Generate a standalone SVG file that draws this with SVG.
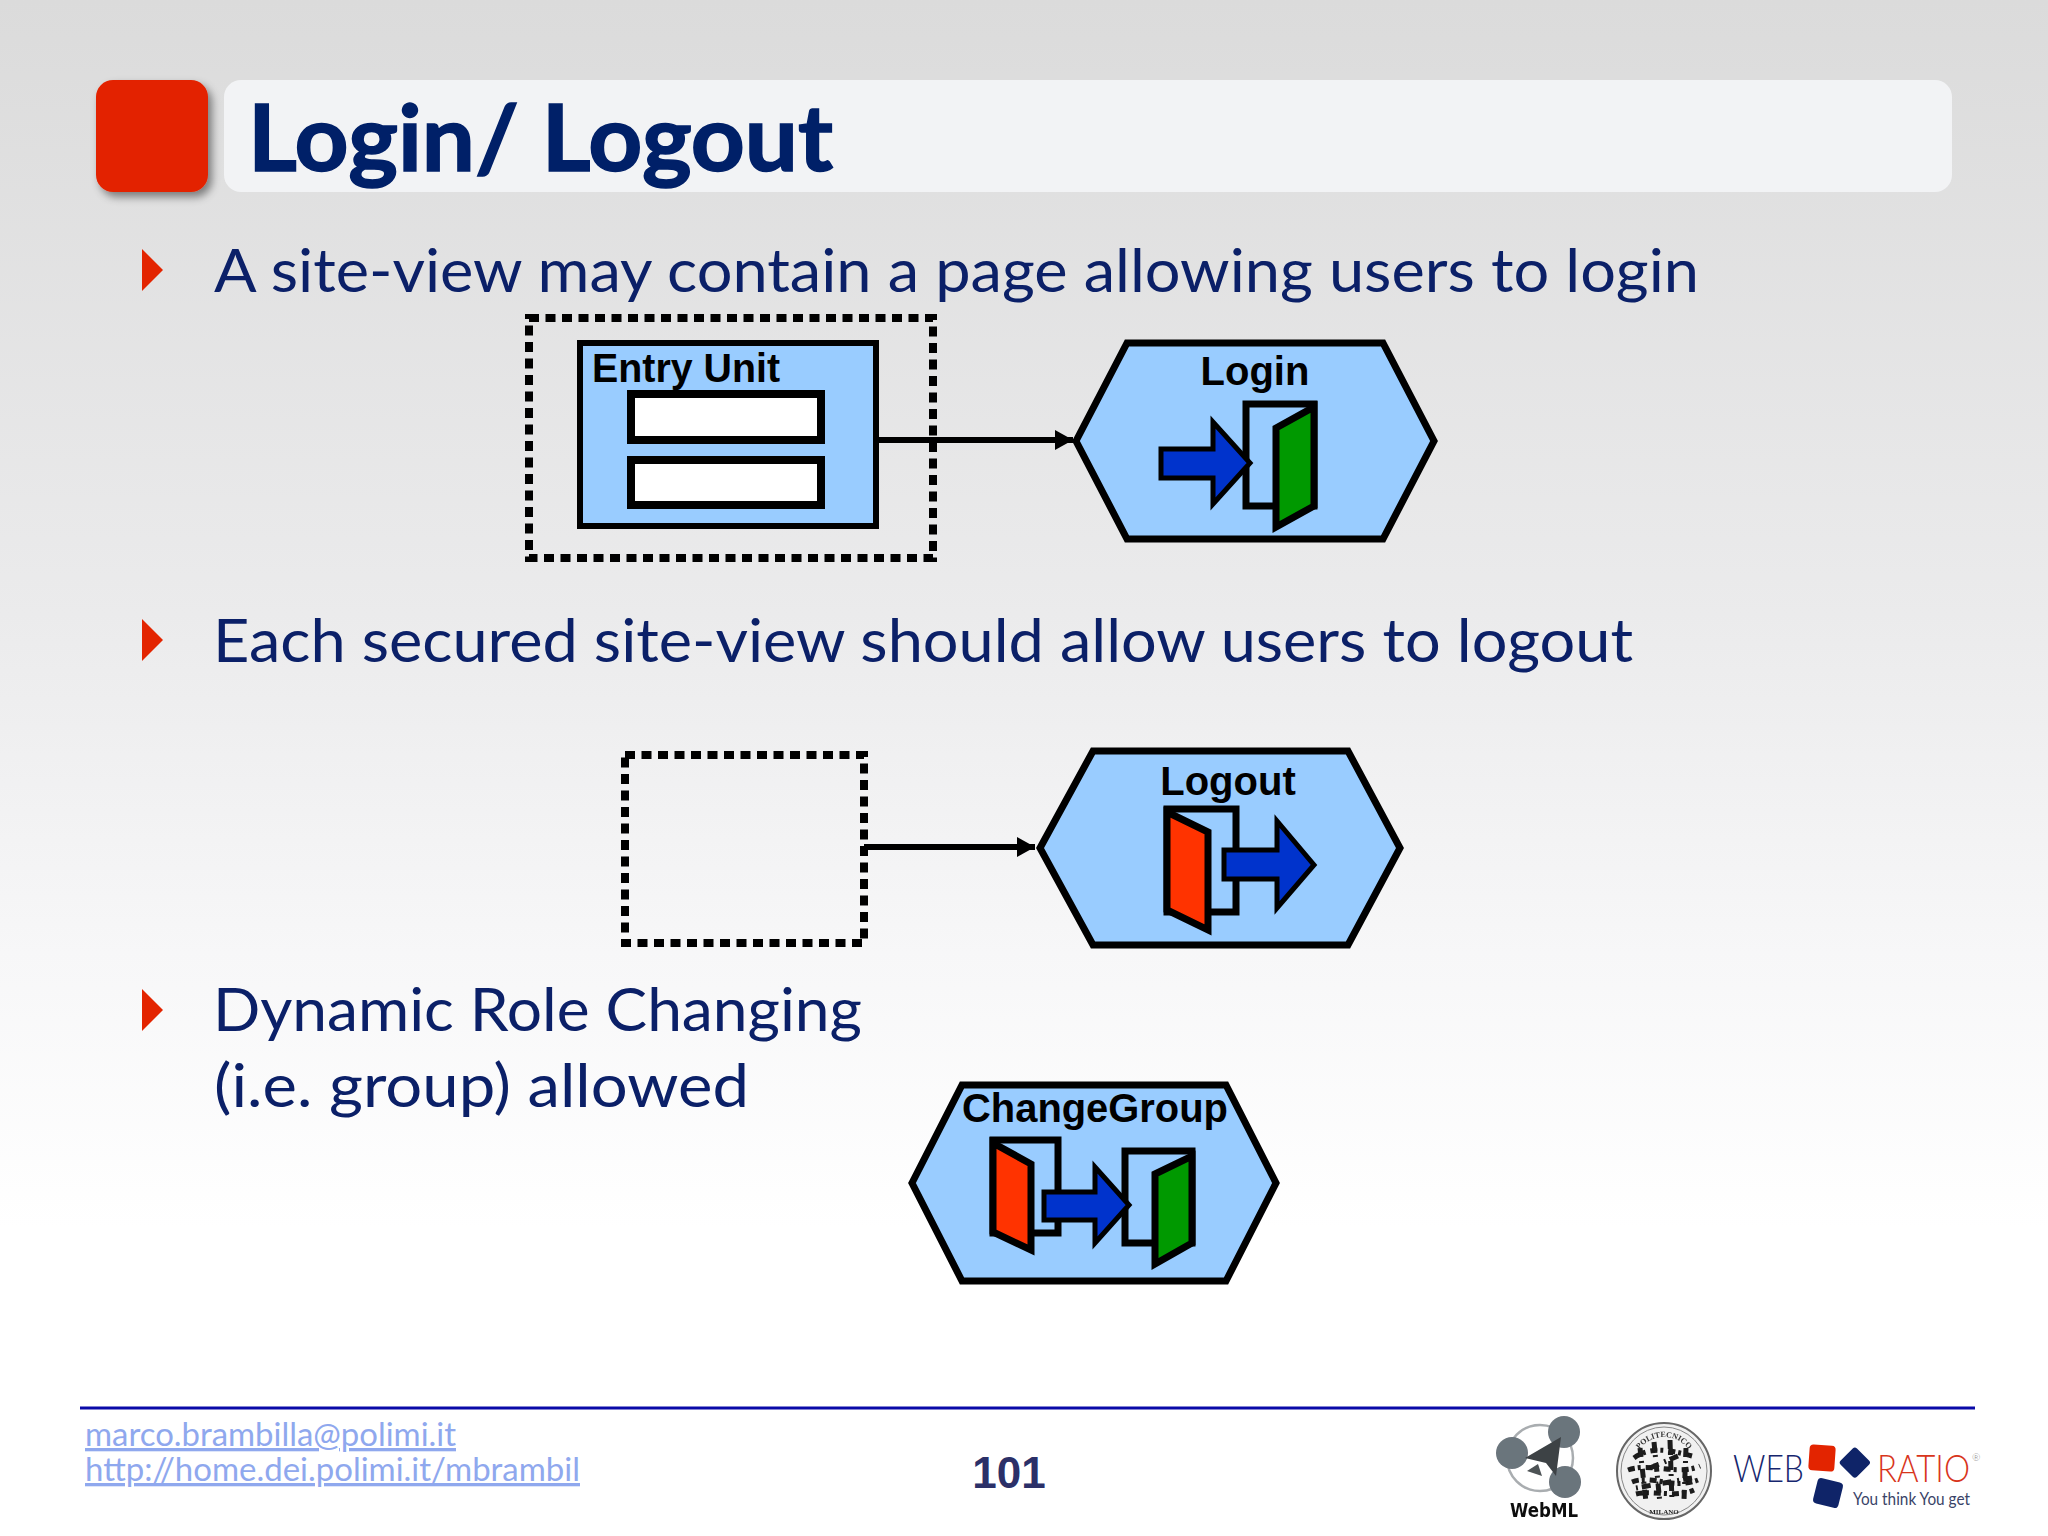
<svg xmlns="http://www.w3.org/2000/svg" width="2048" height="1536" viewBox="0 0 2048 1536">
<style>
.tt{font-family:"Lato","Noto Sans",sans-serif;font-size:60px;fill:#0b2068}
.lb{font-family:"Liberation Sans",Arial,sans-serif;font-weight:700;font-size:40px;fill:#000}
.ln{font-family:"Lato","Noto Sans",sans-serif;font-size:33px;fill:#8fa8ee;text-decoration:underline}
.hx{fill:#99ccff;stroke:#000;stroke-width:7;stroke-linejoin:miter}
.bk{fill:#99ccff;stroke:#000;stroke-width:7}
.bl{fill:#0033cc;stroke:#000;stroke-width:5}
.gr{fill:#009900;stroke:#000;stroke-width:7}
.rd{fill:#ff3300;stroke:#000;stroke-width:7}
.ds{fill:none;stroke:#000;stroke-width:8;stroke-dasharray:10 6.5}
.tri{fill:#e32400}
.bal{fill:#6b747c}
.sl{fill:none;stroke:#1a1a1a;stroke-width:5}
</style>
<defs>
<linearGradient id="bg" x1="0" y1="0" x2="0" y2="1">
<stop offset="0" stop-color="#dbdbdb"/><stop offset="0.4" stop-color="#ebebec"/><stop offset="0.62" stop-color="#f7f7f8"/><stop offset="0.8" stop-color="#ffffff"/><stop offset="1" stop-color="#ffffff"/>
</linearGradient>
<filter id="sh" x="-20%" y="-20%" width="150%" height="150%"><feDropShadow dx="4" dy="5" stdDeviation="4" flood-color="#000" flood-opacity="0.45"/></filter>
<filter id="sf" x="-5%" y="-5%" width="110%" height="110%"><feGaussianBlur stdDeviation="0.7"/></filter>
<marker id="ah" markerUnits="userSpaceOnUse" markerWidth="20" markerHeight="22" refX="18" refY="10" orient="auto"><path d="M0 0L18 10L0 20Z" fill="#000"/></marker>
</defs>
<rect width="2048" height="1536" fill="url(#bg)"/>
<g id="title">
<rect x="96" y="80" width="112" height="112" rx="17" fill="#e32400" filter="url(#sh)"/>
<rect x="224" y="80" width="1728" height="112" rx="17" fill="#f2f3f5"/>
<text x="248" y="171" textLength="585" lengthAdjust="spacingAndGlyphs" style="font-family:Lato,'Noto Sans',sans-serif;font-weight:700;font-size:91px;fill:#002068;stroke:#002068;stroke-width:1.5">Login/ Logout</text>
</g>
<g id="bullets">
<path class="tri" d="M142 249L163 270L142 291Z"/>
<text class="tt" x="214" y="292" textLength="1485" lengthAdjust="spacingAndGlyphs">A site-view may contain a page allowing users to login</text>
<path class="tri" d="M142 619L163 640L142 661Z"/>
<text class="tt" x="213" y="662" textLength="1420" lengthAdjust="spacingAndGlyphs">Each secured site-view should allow users to logout</text>
<path class="tri" d="M142 989L163 1010L142 1031Z"/>
<text class="tt" x="213" y="1031" textLength="649" lengthAdjust="spacingAndGlyphs">Dynamic Role Changing</text>
<text class="tt" x="214" y="1107" textLength="535" lengthAdjust="spacingAndGlyphs">(i.e. group) allowed</text>
</g>
<g id="page-login"><rect class="ds" x="529" y="318" width="404" height="240"/></g>
<g id="entry-unit">
<rect x="580" y="343" width="296" height="183" fill="#99ccff" stroke="#000" stroke-width="6"/>
<rect x="631" y="394" width="190" height="46" fill="#fff" stroke="#000" stroke-width="8"/>
<rect x="631" y="460" width="190" height="45" fill="#fff" stroke="#000" stroke-width="8"/>
<text class="lb" x="592" y="382" textLength="188" lengthAdjust="spacingAndGlyphs">Entry Unit</text>
</g>
<g id="login">
<path class="hx" d="M1076 441L1127 343L1383 343L1434 441L1383 539L1127 539Z"/>
<text class="lb" x="1255" y="385" text-anchor="middle">Login</text>
<rect class="bk" x="1246" y="404" width="68" height="102"/>
<path class="gr" d="M1276 428L1314 407L1314 506L1276 527Z"/>
<path class="bl" d="M1161 449H1213V422L1250 463L1213 504V478H1161Z"/>
</g>
<g id="page-logout"><rect class="ds" x="625" y="755" width="239" height="188"/></g>
<g id="logout">
<path class="hx" d="M1040 848L1093 751L1348 751L1400 848L1348 945L1093 945Z"/>
<text class="lb" x="1228" y="795" text-anchor="middle">Logout</text>
<rect class="bk" x="1167" y="809" width="69" height="103"/>
<path class="rd" d="M1167 812L1208 832L1208 930L1167 910Z"/>
<path class="bl" d="M1224 850H1277V821L1314 865L1277 908V879H1224Z"/>
</g>
<g id="changegroup">
<path class="hx" d="M912 1183L962 1085L1226 1085L1276 1183L1226 1281L962 1281Z"/>
<text class="lb" x="962" y="1122" textLength="266" lengthAdjust="spacingAndGlyphs">ChangeGroup</text>
<rect class="bk" x="993" y="1140" width="65" height="93"/>
<path class="rd" d="M993 1143L1031 1164L1031 1250L993 1232Z"/>
<rect class="bk" x="1125" y="1151" width="67" height="92"/>
<path class="gr" d="M1155 1174L1192 1156L1192 1243L1155 1264Z"/>
<path class="bl" d="M1044 1192H1095V1167L1129 1205L1095 1243V1220H1044Z"/>
</g>
<g id="connectors" fill="none" stroke="#000" stroke-width="6">
<path d="M878 440H1073" marker-end="url(#ah)"/>
<path d="M864 847H1035" marker-end="url(#ah)"/>
</g>
<g id="footer">
<path d="M80 1408H1975" stroke="#0a0aa8" stroke-width="3"/>
<text class="ln"><tspan x="85" y="1446" textLength="371" lengthAdjust="spacingAndGlyphs">marco.brambilla@polimi.it</tspan><tspan x="85" y="1481" textLength="495" lengthAdjust="spacingAndGlyphs">http://home.dei.polimi.it/mbrambil</tspan></text>
<text x="1009" y="1488" text-anchor="middle" style="font-family:'Liberation Sans',Arial,sans-serif;font-weight:700;font-size:44px;fill:#2b3068">101</text>
</g>
<g id="logo-webml" filter="url(#sf)">
<circle cx="1540" cy="1458" r="33" fill="#fff" stroke="#a9adb0" stroke-width="2.5"/>
<circle class="bal" cx="1512" cy="1453" r="16"/>
<circle class="bal" cx="1564" cy="1432" r="16"/>
<circle class="bal" cx="1565" cy="1482" r="16"/>
<path d="M1561 1437L1525 1458L1546 1463L1556 1476Z" fill="#3d4245"/>
<path d="M1538 1464L1527 1471L1542 1476Z" fill="#4d5255"/>
<text x="1544" y="1517" text-anchor="middle" textLength="68" lengthAdjust="spacingAndGlyphs" style="font-family:'DejaVu Sans',sans-serif;font-weight:700;font-size:19px;fill:#111">WebML</text>
</g>
<g id="logo-polimi" filter="url(#sf)">
<ellipse cx="1664" cy="1471" rx="47" ry="48" fill="#f1f1f1" stroke="#666" stroke-width="2"/>
<ellipse cx="1664" cy="1471" rx="43" ry="44" fill="none" stroke="#888" stroke-width="1"/>
<path class="sl" stroke-dasharray="7 3 3 5" d="M1634 1458C1650 1446 1670 1450 1692 1456M1628 1470C1650 1462 1678 1476 1700 1466M1632 1482C1652 1474 1672 1490 1698 1480M1636 1494C1652 1490 1676 1498 1694 1490"/>
<path class="sl" stroke-width="3" stroke-dasharray="9 4 2 6" d="M1640 1448L1646 1502M1654 1442L1660 1504M1670 1440L1672 1502M1686 1448L1684 1500M1678 1456L1650 1468M1692 1478L1636 1488"/>
<path id="seal-top" d="M1632 1471A32 34 0 0 1 1696 1471" fill="none"/>
<text style="font-family:'Liberation Serif',serif;font-size:8px;font-weight:700;fill:#333"><textPath href="#seal-top" startOffset="50%" text-anchor="middle">POLITECNICO</textPath></text>
<text x="1664" y="1514" text-anchor="middle" style="font-family:'Liberation Serif',serif;font-size:7px;font-weight:700;fill:#222">MILANO</text>
</g>
<g id="logo-webratio">
<text x="1733" y="1482" textLength="71" lengthAdjust="spacingAndGlyphs" style="font-family:Lato,'Noto Sans',sans-serif;font-weight:300;font-size:38px;fill:#16266e">WEB</text>
<rect x="1809" y="1445" width="26" height="26" rx="4" fill="#e32400" transform="rotate(4 1822 1458)"/>
<rect x="1843" y="1451" width="23" height="23" rx="3" fill="#0f2468" transform="rotate(45 1854.5 1463)"/>
<rect x="1815" y="1480" width="26" height="26" rx="4" fill="#0f2468" transform="rotate(14 1828 1493)"/>
<text y="1482" style="font-family:Lato,'Noto Sans',sans-serif;font-weight:300;font-size:38px;fill:#d8351b"><tspan x="1877" textLength="93" lengthAdjust="spacingAndGlyphs">RATIO</tspan><tspan x="1972" y="1461" style="font-size:10px;fill:#888">®</tspan></text>
<text x="1853" y="1505" textLength="117" lengthAdjust="spacingAndGlyphs" style="font-family:Lato,'Noto Sans',sans-serif;font-size:17px;fill:#3a4468">You think You get</text>
</g>
</svg>
